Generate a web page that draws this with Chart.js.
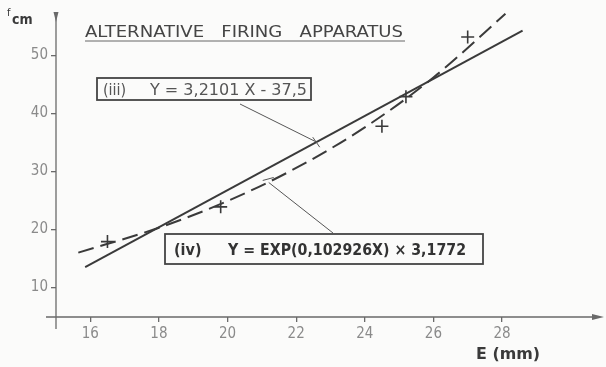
<!DOCTYPE html>
<html>
<head>
<meta charset="utf-8">
<script src="https://cdn.jsdelivr.net/npm/chart.js@4/dist/chart.umd.min.js"></script>
<style>
  html, body { margin: 0; padding: 0; background: #fbfbfa; }
  #wrap { width: 606px; height: 367px; position: relative; }
</style>
</head>
<body>
<div id="wrap"><canvas id="chart"></canvas></div>
<script>
// ---- Data ----
const xTicks = [16, 18, 20, 22, 24, 26, 28];
const yTicks = [10, 20, 30, 40, 50];

// measured points (+)
const measuredE = [16.5, 19.8, 24.5, 25.2, 27.0];
const measuredF = [17.9, 23.9, 37.8, 42.9, 53.2];

// (iii) straight fit, end points as drawn
const linearE = [15.85, 28.6];
const linearF = [13.5, 54.3];

// (iv) exponential fit
const expE = [15.65, 18, 20, 22, 24, 26, 28.1];
const expF = [16.0, 20.3, 24.9, 30.6, 37.6, 46.2, 57.2];

const INK = "#3a3a3a";
const AXIS = "#6a6a6a";
const LABEL = "#8a8a8a";
const FONT = "'DejaVu Sans Condensed', 'Liberation Sans Narrow', sans-serif";

function pairs(xs, ys) {
  return xs.map((x, i) => ({ x, y: ys[i] }));
}

// draw text squeezed/stretched to a given width (the scan is hand lettered)
function fitText(ctx, text, x, y, width) {
  const w = ctx.measureText(text).width;
  ctx.save();
  ctx.translate(x, y);
  ctx.scale(width / w, 1);
  ctx.fillText(text, 0, 0);
  ctx.restore();
}

// ---- Decorations: axis arrows, title, equation boxes, leader lines ----
const decorations = {
  id: "decorations",
  afterDraw(chart) {
    const { ctx, chartArea: a, scales } = chart;
    const px = (v) => scales.x.getPixelForValue(v);
    const py = (v) => scales.y.getPixelForValue(v);
    ctx.save();

    // axes extended a bit past the origin, with arrow heads
    ctx.strokeStyle = AXIS;
    ctx.fillStyle = AXIS;
    ctx.lineWidth = 1.3;
    ctx.beginPath();
    ctx.moveTo(a.left - 10, a.bottom);
    ctx.lineTo(a.right, a.bottom);
    ctx.moveTo(a.left, a.bottom + 12);
    ctx.lineTo(a.left, a.top);
    ctx.stroke();
    ctx.beginPath();
    ctx.moveTo(a.right + 8, a.bottom);
    ctx.lineTo(a.right - 4, a.bottom - 3);
    ctx.lineTo(a.right - 4, a.bottom + 3);
    ctx.closePath();
    ctx.fill();
    ctx.beginPath();
    ctx.moveTo(a.left, a.top + 10);
    ctx.lineTo(a.left - 2.5, a.top);
    ctx.lineTo(a.left + 2.5, a.top);
    ctx.closePath();
    ctx.fill();

    // axis names
    ctx.fillStyle = INK;
    ctx.font = "11px " + FONT;
    ctx.fillText("f", 7, 16);
    ctx.font = "bold 14px " + FONT;
    ctx.fillText("cm", 12, 24);
    ctx.font = "bold 16px " + FONT;
    fitText(ctx, "E (mm)", 476, 359, 64);

    // title, underlined
    ctx.fillStyle = "#454545";
    ctx.font = "16px " + FONT;
    fitText(ctx, "ALTERNATIVE   FIRING   APPARATUS", 85, 37, 318);
    ctx.strokeStyle = "#666";
    ctx.lineWidth = 1;
    ctx.beginPath();
    ctx.moveTo(85, 41);
    ctx.lineTo(405, 41);
    ctx.stroke();

    // equation boxes
    ctx.strokeStyle = "#444";
    ctx.lineWidth = 1.8;
    ctx.strokeRect(97, 78, 214, 22);
    ctx.strokeRect(165, 234, 318, 30);
    ctx.fillStyle = "#555";
    ctx.font = "16px " + FONT;
    ctx.fillText("(iii)", 103, 95);
    fitText(ctx, "Y = 3,2101 X - 37,5", 150, 95, 157);
    ctx.fillStyle = "#333";
    ctx.font = "bold 16px " + FONT;
    ctx.fillText("(iv)", 174, 255);
    fitText(ctx, "Y = EXP(0,102926X) \u00d7 3,1772", 228, 255, 238);

    // leader lines from boxes to curves
    ctx.strokeStyle = "#555";
    ctx.lineWidth = 1;
    const l3x = px(22.6), l3y = py(35.05);
    ctx.beginPath();
    ctx.moveTo(240, 104);
    ctx.lineTo(l3x, l3y);
    ctx.moveTo(l3x - 4, l3y - 5);
    ctx.lineTo(l3x + 3, l3y + 5);
    ctx.stroke();
    const l4x = px(21.2), l4y = py(28.1);
    ctx.beginPath();
    ctx.moveTo(333, 233);
    ctx.lineTo(l4x, l4y);
    ctx.moveTo(l4x - 6, l4y - 2);
    ctx.lineTo(l4x + 5, l4y - 5);
    ctx.stroke();

    ctx.restore();
  },
};

new Chart(document.getElementById("chart"), {
  type: "scatter",
  data: {
    datasets: [
      {
        label: "(iii)",
        data: pairs(linearE, linearF),
        showLine: true,
        borderColor: INK,
        borderWidth: 2,
        pointRadius: 0,
      },
      {
        label: "(iv)",
        data: pairs(expE, expF),
        showLine: true,
        cubicInterpolationMode: "monotone",
        borderColor: INK,
        borderWidth: 2,
        borderDash: [16, 7],
        pointRadius: 0,
      },
      {
        label: "measured",
        data: pairs(measuredE, measuredF),
        pointStyle: "cross",
        pointRadius: 6.5,
        pointBorderWidth: 1.6,
        borderColor: INK,
        backgroundColor: INK,
      },
    ],
  },
  options: {
    responsive: true,
    maintainAspectRatio: false,
    animation: false,
    layout: { padding: { top: 8, right: 10, left: 0, bottom: 0 } },
    plugins: { legend: { display: false }, tooltip: { enabled: false } },
    scales: {
      x: {
        type: "linear",
        min: 15,
        max: 30.74,
        afterFit: (s) => { s.height = 50; },
        afterBuildTicks: (s) => { s.ticks = xTicks.map((v) => ({ value: v })); },
        border: { display: false },
        grid: { drawOnChartArea: false, tickLength: 5, color: AXIS, lineWidth: 1.3 },
        ticks: { color: LABEL, padding: 3, font: { family: FONT, size: 15 } },
      },
      y: {
        type: "linear",
        min: 4.9,
        max: 57.5,
        afterFit: (s) => { s.width = 56; },
        afterBuildTicks: (s) => { s.ticks = yTicks.map((v) => ({ value: v })); },
        border: { display: false },
        grid: { drawOnChartArea: false, tickLength: 5, color: AXIS, lineWidth: 1.3 },
        ticks: { color: LABEL, padding: 3, font: { family: FONT, size: 15 } },
      },
    },
  },
  plugins: [decorations],
});
</script>
</body>
</html>
